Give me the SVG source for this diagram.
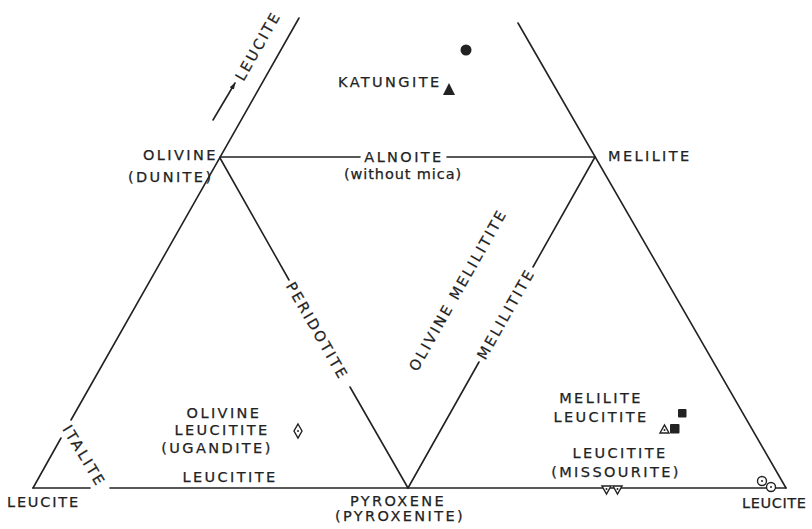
<svg xmlns="http://www.w3.org/2000/svg" width="812" height="529" viewBox="0 0 812 529">
<style>
.ln{stroke:#222;stroke-width:1.6;fill:none;stroke-linecap:round}
.t{font-family:"DejaVu Sans","Liberation Sans",sans-serif;font-size:14.5px;letter-spacing:2.4px;fill:#222;stroke:#222;stroke-width:0.25}
.lc{letter-spacing:0.9px}
.m{text-anchor:middle}
.e{text-anchor:end}
.c{dominant-baseline:central}
.f{fill:#222}
.o{fill:#fff;stroke:#222;stroke-width:1.4}
</style>
<defs>
<marker id="ah" viewBox="0 0 10 10" refX="9" refY="5" markerWidth="7" markerHeight="7" orient="auto" markerUnits="userSpaceOnUse">
<path d="M0,1.5 L10,5 L0,8.5 Z" fill="#222"/>
</marker>
</defs>
<rect width="812" height="529" fill="#fff"/>
<g id="connectors">
<line class="ln" x1="33" y1="488" x2="61" y2="438"/>
<line class="ln" x1="71" y1="420" x2="299" y2="18"/>
<line class="ln" x1="33" y1="488" x2="90" y2="488"/>
<line class="ln" x1="110" y1="488" x2="786" y2="488"/>
<line class="ln" x1="518" y1="23" x2="786" y2="488"/>
<line class="ln" x1="220" y1="157" x2="360" y2="157"/>
<line class="ln" x1="447" y1="157" x2="595" y2="157"/>
<line class="ln" x1="220" y1="158" x2="289" y2="280"/>
<line class="ln" x1="350" y1="387" x2="408" y2="488"/>
<line class="ln" x1="595" y1="157" x2="533" y2="267"/>
<line class="ln" x1="479" y1="362" x2="408" y2="488"/>
<line class="ln" x1="213" y1="120" x2="235" y2="83" marker-end="url(#ah)"/>
</g>
<g id="node-olivine"><text class="t" x="143" y="160">OLIVINE</text><text class="t" x="128" y="182">(DUNITE)</text></g>
<g id="node-melilite"><text class="t" x="608" y="161">MELILITE</text></g>
<g id="node-alnoite"><text class="t m" x="404" y="162">ALNOITE</text><text class="t m lc" x="403" y="179">(without mica)</text></g>
<g id="node-katungite"><text class="t" x="338" y="87">KATUNGITE</text></g>
<g id="node-leucite-top"><text class="t m c" transform="translate(258,46) rotate(-60.5)">LEUCITE</text></g>
<g id="node-peridotite"><text class="t m c" transform="translate(317,331) rotate(60.3)">PERIDOTITE</text></g>
<g id="node-melilitite"><text class="t m c" transform="translate(506,314) rotate(-60.5)">MELILITITE</text></g>
<g id="node-olivine-melilitite"><text class="t m c" transform="translate(458,290) rotate(-60.5)">OLIVINE MELILITITE</text></g>
<g id="node-italite"><text class="t m c" transform="translate(84,456) rotate(59)">ITALITE</text></g>
<g id="node-ugandite"><text class="t m" x="224" y="418">OLIVINE</text><text class="t m" x="222" y="435">LEUCITITE</text><text class="t m" x="217" y="453">(UGANDITE)</text></g>
<g id="node-leucitite-left"><text class="t m" x="230" y="482">LEUCITITE</text></g>
<g id="node-leucite-left"><text class="t" x="7" y="507" style="letter-spacing:1.8px">LEUCITE</text></g>
<g id="node-pyroxene"><text class="t m" x="398" y="506">PYROXENE</text><text class="t m" x="400" y="521">(PYROXENITE)</text></g>
<g id="node-melilite-leucitite"><text class="t m" x="601" y="403">MELILITE</text><text class="t m" x="601" y="422">LEUCITITE</text></g>
<g id="node-missourite"><text class="t m" x="620" y="458">LEUCITITE</text><text class="t m" x="616" y="477">(MISSOURITE)</text></g>
<g id="node-leucite-right"><text class="t" x="742" y="508" style="letter-spacing:0.6px">LEUCITE</text></g>
<g id="markers">
<circle class="f" cx="466" cy="50" r="5.5"/>
<path class="f" d="M443,95 L455,95 L449,83 Z"/>
<path class="o" d="M298,424 L302,431 L298,438 L294,431 Z"/>
<circle class="f" cx="298" cy="431" r="1"/>
<rect class="f" x="678" y="409" width="8.5" height="8.5" rx="1"/>
<rect class="f" x="670" y="424" width="9.5" height="9.5" rx="1"/>
<path class="o" d="M660,433 L669,433 L664.5,425 Z"/>
<circle class="f" cx="664.5" cy="430" r="1"/>
<path class="o" d="M602,486 L611,486 L606.5,494 Z"/>
<circle class="f" cx="606.5" cy="489" r="1"/>
<path class="o" d="M613,486 L622,486 L617.5,494 Z"/>
<circle class="f" cx="617.5" cy="489" r="1"/>
<circle class="o" cx="762" cy="481" r="4.5"/>
<circle class="f" cx="762" cy="481" r="1"/>
<circle class="o" cx="771" cy="487" r="4.5"/>
<circle class="f" cx="771" cy="487" r="1"/>
</g>
</svg>
